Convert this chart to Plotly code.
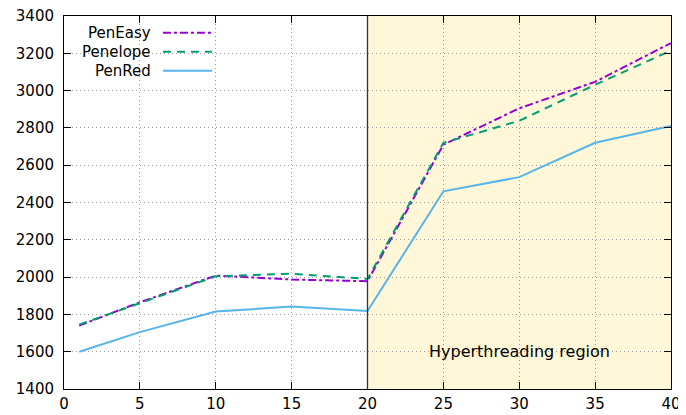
import plotly.graph_objects as go

threads = [1, 5, 10, 15, 20, 25, 30, 35, 40]
pen_easy = [1740, 1865, 2008, 1987, 1978, 2710, 2905, 3047, 3255]
penelope = [1745, 1862, 2004, 2018, 1990, 2720, 2838, 3031, 3215]
pen_red = [1600, 1705, 1815, 1842, 1818, 2460, 2536, 2720, 2810]

ht_start, ht_end = 20, 40
ht_label = 'Hyperthreading region'

series = [
    ('PenEasy', pen_easy, '#9400D3', '8px,3px,3px,3px'),
    ('Penelope', penelope, '#009E73', '8px,6px'),
    ('PenRed', pen_red, '#56B4E9', 'solid'),
]

font = dict(family='DejaVu Sans', size=15, color='black')

fig = go.Figure()

# shaded hyperthreading region
fig.add_vrect(x0=ht_start, x1=ht_end, fillcolor='#FFF7D8', line_width=0, layer='below')
fig.add_vline(x=ht_start, line_width=1.3, line_color='#333333')

for name, vals, color, dash in series:
    fig.add_trace(go.Scatter(x=threads, y=vals, mode='lines', name=name,
                             line=dict(color=color, width=2, dash=dash),
                             showlegend=False))

# gnuplot style legend: label on the left, sample on the right
for i, (name, vals, color, dash) in enumerate(series):
    yy = 0.955 - i * 0.051
    fig.add_annotation(x=0.147, y=yy, xref='paper', yref='paper', text=name,
                       showarrow=False, xanchor='right', yanchor='middle', font=font)
    fig.add_shape(type='line', xref='paper', yref='paper', x0=0.163, x1=0.244,
                  y0=yy, y1=yy, line=dict(color=color, width=2, dash=dash))

fig.add_annotation(x=(ht_start + ht_end) / 2, y=1600, text=ht_label, showarrow=False,
                   font=dict(family='DejaVu Sans', size=16, color='black'), yanchor='middle')

axis_style = dict(showline=True, linecolor='black', linewidth=1, mirror='allticks',
                  ticks='inside', ticklen=7, tickcolor='black', showgrid=True,
                  gridcolor='#999999', griddash='1px,3px', gridwidth=1, zeroline=False,
                  tickfont=font, automargin=False, ticklabeloverflow='allow')
fig.update_xaxes(range=[0, 40], dtick=5, ticklabelstandoff=1, **axis_style)
fig.update_yaxes(range=[1400, 3400], dtick=200, ticklabelstandoff=6, **axis_style)

# page body has an 8px margin, so the figure is a bit smaller than the window
fig.update_layout(
    width=678, height=407,
    margin=dict(l=56, r=15, t=8, b=26),
    paper_bgcolor='white', plot_bgcolor='white',
    font=font)

fig.write_html('out.html')
